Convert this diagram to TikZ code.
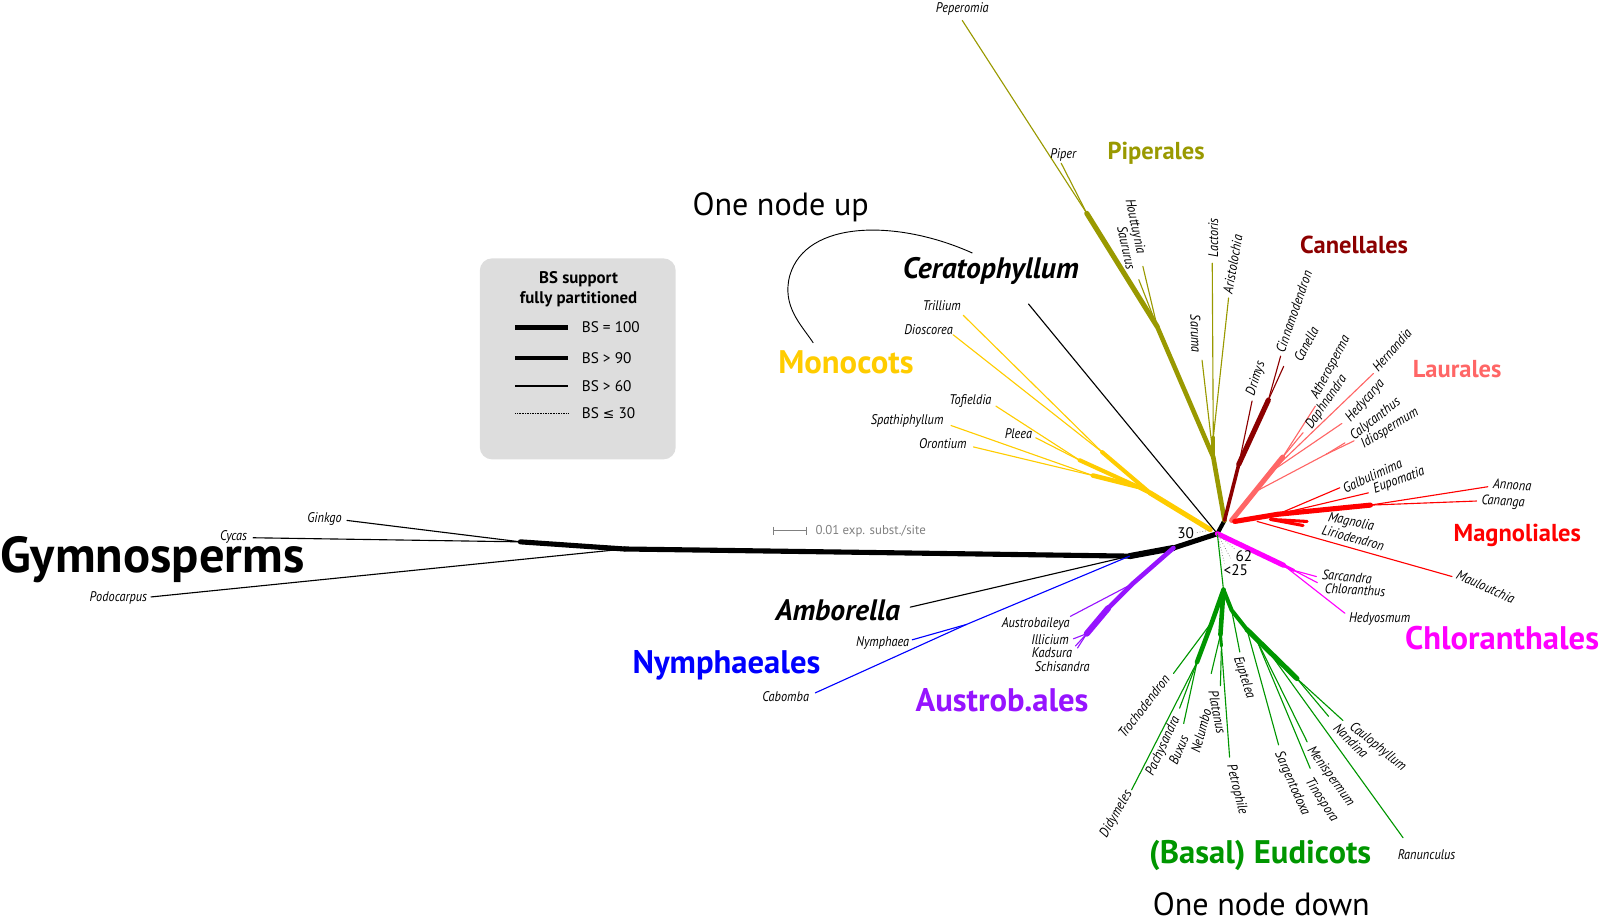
\documentclass[tikz,border=0pt]{standalone}
\usepackage{fontspec}
\usetikzlibrary{calc}
\setmainfont{PT Sans}
\newfontfamily\taxf[FakeStretch=0.88]{PT Sans}
\newfontfamily\symf{DejaVu Sans}
\definecolor{colPip}{RGB}{153,153,0}
\definecolor{colCan}{RGB}{140,0,0}
\definecolor{colLau}{RGB}{255,102,102}
\definecolor{colMag}{RGB}{255,0,0}
\definecolor{colChl}{RGB}{255,0,255}
\definecolor{colEud}{RGB}{0,150,0}
\definecolor{colMon}{RGB}{255,204,0}
\definecolor{colAus}{RGB}{150,20,255}
\definecolor{colNym}{RGB}{0,0,255}
\definecolor{colLeg}{RGB}{221,221,221}
\definecolor{colBar}{RGB}{128,128,128}
\begin{document}
\begin{tikzpicture}[x=1pt,y=-1pt,
  tax/.style={font=\taxf\itshape\fontsize{13.7}{13.7}\selectfont, inner sep=0pt, text=black},
  clade/.style={font=\bfseries\fontsize{32}{32}\selectfont, inner sep=0pt},
  cladesm/.style={font=\bfseries\fontsize{24}{24}\selectfont, inner sep=0pt},
  bigtxt/.style={font=\fontsize{31.5}{31.5}\selectfont, inner sep=0pt},
  bitxt/.style={font=\bfseries\itshape\fontsize{29}{29}\selectfont, inner sep=0pt},
  br/.style={line width=1.1pt, line cap=round},
  bw/.style={line width=#1, line cap=round, line join=round},
  dotl/.style={dotted, line width=0.7pt, colBar},
  legtxt/.style={font=\fontsize{15}{15}\selectfont, inner sep=0pt, anchor=west},
  legttl/.style={font=\bfseries\fontsize{16.5}{16.5}\selectfont, inner sep=0pt},
  numtxt/.style={font=\fontsize{15}{15}\selectfont, inner sep=0pt}
]
\useasboundingbox (0,0) rectangle (1568,905);

% ---------------- legend ----------------
\node[draw=none, fill=colLeg, rounded corners=12pt, minimum width=192pt, minimum height=197pt, anchor=north west, inner sep=0pt] (legbox) at (470,253) {};
\node[legttl] (legt1) at (567,274) {BS support};
\node[legttl] (legt2) at (567,293) {fully partitioned};
\coordinate (lgA1) at (505,321); \coordinate (lgA2) at (557,321);
\coordinate (lgB1) at (505,351); \coordinate (lgB2) at (557,351);
\coordinate (lgC1) at (505,378); \coordinate (lgC2) at (557,378);
\coordinate (lgD1) at (505,405); \coordinate (lgD2) at (557,405);
\draw[line width=5pt] (lgA1) -- (lgA2);
\draw[line width=4pt] (lgB1) -- (lgB2);
\draw[line width=2pt] (lgC1) -- (lgC2);
\draw[densely dotted, line width=0.6pt] (lgD1) -- (lgD2);
\node[legtxt] (legl1) at (570,321) {BS = 100};
\node[legtxt] (legl2) at (570,351) {BS > 90};
\node[legtxt] (legl3) at (570,378) {BS > 60};
\node[legtxt] (legl4) at (570,405) {BS {\symf\fontsize{13.5}{13.5}\selectfont ≤} 30};

% ---------------- scale bar ----------------
\coordinate (sb1) at (758,520); \coordinate (sb2) at (790,520);
\draw[colBar, line width=1pt] (sb1) -- (sb2);
\draw[colBar, line width=1pt] ($(sb1)+(0,-4)$) -- ($(sb1)+(0,4)$);
\draw[colBar, line width=1pt] ($(sb2)+(0,-4)$) -- ($(sb2)+(0,4)$);
\node[font=\fontsize{12.6}{12.6}\selectfont, text=colBar, inner sep=0pt, anchor=west] (sbl) at (799,521) {0.01 exp. subst./site};

% ---------------- backbone ----------------
\coordinate (G1) at (510,531);
\coordinate (R0) at (612,538);
\coordinate (A) at (1107,545);
\coordinate (C) at (1150,537);
\coordinate (M1) at (1193,523);
\coordinate (M2) at (1200,510);

% gymnosperms
\coordinate (tGinkgo) at (340,510);
\coordinate (tCycas) at (248,527);
\coordinate (tPodocarpus) at (148,585);
\draw[br] (tGinkgo) -- (G1);
\draw[br] (tCycas) -- (G1);
\draw[br] (tPodocarpus) -- (R0);
\draw[bw=5pt] (G1) -- (R0);
\draw[bw=5pt] (R0) -- (A);
\draw[bw=6pt] (A) -- (C);
\draw[bw=5pt] (C) -- (M1);
\draw[bw=4pt] (M1) -- (M2);
\node[tax] (lGinkgo) at (318,509) {Ginkgo};
\node[tax] (lCycas) at (229,526) {Cycas};
\node[tax] (lPodocarpus) at (116,586) {Podocarpus};
\node[font=\bfseries\fontsize{49.5}{49.5}\selectfont, inner sep=0pt, anchor=west] (gym) at (0,548) {Gymnosperms};

% Amborella & Nymphaeales
\coordinate (tAmborella) at (892,595);
\draw[br] (tAmborella) -- (A);
\node[bitxt] (lAmborella) at (821,598) {Amborella};
\coordinate (N1) at (947,612);
\coordinate (tNymphaea) at (894,627);
\coordinate (tCabomba) at (799,679);
\draw[br, colNym] (tCabomba) -- (N1) -- (A);
\draw[br, colNym] (tNymphaea) -- (N1);
\node[tax] (lNymphaea) at (865,630) {Nymphaea};
\node[tax] (lCabomba) at (770,683) {Cabomba};
\node[clade, text=colNym] (cNym) at (712,652) {Nymphaeales};

% Austrobaileyales
\coordinate (Au1) at (1110,572);
\coordinate (Au2) at (1086,596);
\coordinate (Au3) at (1065,621);
\coordinate (tAustrobaileya) at (1049,604);
\coordinate (tIllicium) at (1052,626);
\coordinate (tKadsura) at (1054,633);
\coordinate (tSchisandra) at (1056,635);
\draw[bw=4.5pt, colAus] (C) -- (Au1) -- (Au2);
\draw[bw=6pt, colAus] (Au2) -- (Au3);
\draw[br, colAus] (tAustrobaileya) -- (Au1);
\draw[br, colAus] (tIllicium) -- (Au3);
\draw[br, colAus] (tKadsura) -- (Au3);
\draw[br, colAus] (tSchisandra) -- (Au3);
\node[tax] (lAustrobaileya) at (1015,611) {Austrobaileya};
\node[tax] (lIllicium) at (1029,627) {Illicium};
\node[tax] (lKadsura) at (1031,640) {Kadsura};
\node[tax] (lSchisandra) at (1041,653) {Schisandra};
\node[clade, text=colAus] (cAus) at (982,686) {Austrob.ales};

% Monocots
\coordinate (Ys) at (1186,519);
\coordinate (Y0) at (1127,483);
\coordinate (Y1) at (1080,443);
\coordinate (Y2) at (1115,477);
\coordinate (Y3) at (1058,451);
\coordinate (Y4) at (1071,466);
\coordinate (tTrillium) at (944,309);
\coordinate (tDioscorea) at (934,328);
\coordinate (tTofieldia) at (976,398);
\coordinate (tPleea) at (1015,429);
\coordinate (tSpathiphyllum) at (932,417);
\coordinate (tOrontium) at (954,438);
\draw[br, colMon] (tTrillium) -- (Y1);
\draw[br, colMon] (tDioscorea) -- (Y1);
\draw[br, colMon] (tTofieldia) -- (Y3);
\draw[br, colMon] (tPleea) -- (Y3);
\draw[br, colMon] (tSpathiphyllum) -- (Y4);
\draw[br, colMon] (tOrontium) -- (Y4);
\draw[bw=5pt, colMon] (Ys) -- (Y0);
\draw[bw=4pt, colMon] (Y0) -- (Y1);
\draw[bw=4pt, colMon] (Y0) -- (Y2);
\draw[bw=4pt, colMon] (Y2) -- (Y3);
\draw[bw=4.5pt, colMon] (Y2) -- (Y4);
\node[tax] (lTrillium) at (923,300) {Trillium};
\node[tax] (lDioscorea) at (910,323) {Dioscorea};
\node[tax] (lTofieldia) at (951,393) {Tofieldia};
\node[tax] (lPleea) at (998,425) {Pleea};
\node[tax] (lSpathiphyllum) at (889,413) {Spathiphyllum};
\node[tax] (lOrontium) at (924,435) {Orontium};
\node[clade, text=colMon] (cMon) at (829,355) {Monocots};

% Ceratophyllum
\coordinate (tCeratophyllum) at (1008,298);
\draw[br] (tCeratophyllum) -- (M1);
\node[bitxt] (lCeratophyllum) at (971,266) {Ceratophyllum};
\node[bigtxt] (upl) at (765,203) {One node up};
\coordinate (arcS) at (953,248);
\coordinate (arcM) at (774,270);
\coordinate (arcE) at (797,336);
\draw[line width=0.9pt] (arcS) .. controls (880,215) and (790,215) .. (arcM) .. controls (766,300) and (785,318) .. (arcE);

% Piperales
\coordinate (P1) at (1065,209);
\coordinate (P2) at (1134,320);
\coordinate (P4) at (1189,429);
\coordinate (P3) at (1189,448);
\coordinate (tPeperomia) at (943,20);
\coordinate (tPiper) at (1040,160);
\coordinate (tHouttuynia) at (1120,261);
\coordinate (tSaururus) at (1116,274);
\coordinate (tLactoris) at (1188,258);
\coordinate (tAristolochia) at (1204,292);
\coordinate (tSaruma) at (1178,353);
\draw[br, colPip] (tPeperomia) -- (P1);
\draw[br, colPip] (tPiper) -- (P1);
\draw[br, colPip] (tHouttuynia) -- (P2);
\draw[br, colPip] (tSaururus) -- (P2);
\draw[br, colPip] (tLactoris) -- (P4);
\draw[br, colPip] (tAristolochia) -- (P4);
\draw[br, colPip] (tSaruma) -- (P3);
\draw[bw=5pt, colPip] (P1) -- (P2);
\draw[bw=4.5pt, colPip] (P2) -- (P3) -- (M2);
\draw[bw=4pt, colPip] (P4) -- (P3);
\node[tax] (lPeperomia) at (943,9) {Peperomia};
\node[tax] (lPiper) at (1042,152) {Piper};
\node[tax, rotate=-78] (lHouttuynia) at (1112,222) {Houttuynia};
\node[tax, rotate=-78] (lSaururus) at (1104,243) {Saururus};
\node[tax, rotate=90] (lLactoris) at (1189,233) {Lactoris};
\node[tax, rotate=80] (lAristolochia) at (1208,259) {Aristolochia};
\node[tax, rotate=-88] (lSaruma) at (1172,327) {Saruma};
\node[cladesm, text=colPip] (cPip) at (1133,150) {Piperales};

% Canellales
\coordinate (D1) at (1243,392);
\coordinate (D2) at (1214,455);
\coordinate (tCinnamodendron) at (1255,349);
\coordinate (tCanella) at (1258,359);
\coordinate (tDrimys) at (1227,393);
\draw[br, colCan] (tCinnamodendron) -- (D1);
\draw[br, colCan] (tCanella) -- (D1);
\draw[br, colCan] (tDrimys) -- (D2);
\draw[bw=5pt, colCan] (D1) -- (D2);
\draw[bw=3.5pt, colCan] (D2) -- (M2);
\node[tax, rotate=71] (lCinnamodendron) at (1268,305) {Cinnamodendron};
\node[tax, rotate=62] (lCanella) at (1280,337) {Canella};
\node[tax, rotate=72] (lDrimys) at (1231,371) {Drimys};
\node[cladesm, text=colCan] (cCan) at (1327,240) {Canellales};

% Laurales
\coordinate (Ls) at (1207,510);
\coordinate (L0) at (1257,448);
\coordinate (L2) at (1246,462);
\coordinate (L4) at (1230,482);
\coordinate (L3) at (1300,445);
\coordinate (tAtherosperma) at (1289,398);
\coordinate (tDaphnandra) at (1277,424);
\coordinate (tHernandia) at (1346,366);
\coordinate (tHedycarya) at (1315,415);
\coordinate (tCalycanthus) at (1318,434);
\coordinate (tIdiospermum) at (1327,432);
\draw[br, colLau] (tAtherosperma) -- (L0);
\draw[br, colLau] (tDaphnandra) -- (L0);
\draw[br, colLau] (tHernandia) -- (L2);
\draw[br, colLau] (tHedycarya) -- (L2);
\draw[br, colLau] (tCalycanthus) -- (L3);
\draw[br, colLau] (tIdiospermum) -- (L3);
\draw[br, colLau] (L3) -- (L4);
\draw[bw=5pt, colLau] (Ls) -- (L0);
\node[tax, rotate=49] (lHernandia) at (1364,343) {Hernandia};
\node[tax, rotate=62] (lAtherosperma) at (1304,360) {Atherosperma};
\node[tax, rotate=55] (lDaphnandra) at (1300,394) {Daphnandra};
\node[tax, rotate=48] (lHedycarya) at (1338,393) {Hedycarya};
\node[tax, rotate=38] (lCalycanthus) at (1348,411) {Calycanthus};
\node[tax, rotate=32] (lIdiospermum) at (1362,420) {Idiospermum};
\node[cladesm, text=colLau] (cLau) at (1428,362) {Laurales};

% Magnoliales
\coordinate (Mg0) at (1210,511);
\coordinate (Mg2) at (1252,504);
\coordinate (Mg1) at (1343,495);
\coordinate (Mg3) at (1245,509);
\coordinate (Mg4) at (1232,511);
\coordinate (tGalbulimima) at (1313,478);
\coordinate (tEupomatia) at (1341,483);
\coordinate (tAnnona) at (1458,477);
\coordinate (tCananga) at (1447,491);
\coordinate (tMagnolia) at (1281,511);
\coordinate (tLiriodendron) at (1277,515);
\coordinate (tMauloutchia) at (1423,565);
\draw[br, colMag] (tGalbulimima) -- (Mg2);
\draw[br, colMag] (tEupomatia) -- (Mg2);
\draw[br, colMag] (tAnnona) -- (Mg1);
\draw[br, colMag] (tCananga) -- (Mg1);
\draw[br, colMag] (tMauloutchia) -- (Mg4);
\draw[bw=3pt, colMag] (Mg3) -- (tMagnolia);
\draw[bw=3pt, colMag] (Mg3) -- (tLiriodendron);
\draw[bw=5pt, colMag] (Mg0) -- (Mg2) -- (Mg1);
\node[tax, rotate=25] (lGalbulimima) at (1345,466) {Galbulimima};
\node[tax, rotate=20] (lEupomatia) at (1371,471) {Eupomatia};
\node[tax, rotate=-4] (lAnnona) at (1482,475) {Annona};
\node[tax, rotate=-4] (lCananga) at (1473,492) {Cananga};
\node[tax, rotate=-12] (lMagnolia) at (1324,512) {Magnolia};
\node[tax, rotate=-15] (lLiriodendron) at (1326,527) {Liriodendron};
\node[tax, rotate=-24] (lMauloutchia) at (1456,575) {Mauloutchia};
\node[cladesm, text=colMag] (cMag) at (1487,525) {Magnoliales};

% Chloranthales
\coordinate (C1) at (1258,554);
\coordinate (C2) at (1268,559);
\coordinate (tSarcandra) at (1290,565);
\coordinate (tChloranthus) at (1291,571);
\coordinate (tHedyosmum) at (1318,601);
\draw[br, colChl] (tSarcandra) -- (C2);
\draw[br, colChl] (tChloranthus) -- (C2);
\draw[br, colChl] (tHedyosmum) -- (C1);
\draw[bw=5pt, colChl] (M1) -- (C1);
\draw[bw=3pt, colChl] (C1) -- (C2);
\node[tax, rotate=-5] (lSarcandra) at (1320,565) {Sarcandra};
\node[tax, rotate=-3] (lChloranthus) at (1328,578) {Chloranthus};
\node[tax] (lHedyosmum) at (1352,607) {Hedyosmum};
\node[clade, text=colChl] (cChl) at (1472,625) {Chloranthales};

% Eudicots
\coordinate (E0) at (1199,578);
\coordinate (T1) at (1188,609);
\coordinate (B1) at (1173,649);
\coordinate (Pr0) at (1196,622);
\coordinate (Pr1) at (1197,633);
\coordinate (Ra1) at (1207,598);
\coordinate (Ra2) at (1222,617);
\coordinate (Ra3) at (1231,626);
\coordinate (Ra5) at (1243,638);
\coordinate (Ra4) at (1271,665);
\coordinate (tTrochodendron) at (1150,660);
\coordinate (tDidymeles) at (1109,774);
\coordinate (tPachysandra) at (1156,694);
\coordinate (tBuxus) at (1160,709);
\coordinate (tNelumbo) at (1187,660);
\coordinate (tPlatanus) at (1196,672);
\coordinate (tPetrophile) at (1205,742);
\coordinate (tEuptelea) at (1215,639);
\coordinate (tSargentodoxa) at (1253,730);
\coordinate (tMenispermum) at (1281,727);
\coordinate (tTinospora) at (1284,753);
\coordinate (tRanunculus) at (1375,821);
\coordinate (tNandina) at (1302,702);
\coordinate (tCaulophyllum) at (1316,706);
\draw[br, colEud] (M1) -- (E0);
\draw[br, colEud] (tTrochodendron) -- (T1);
\draw[br, colEud] (tDidymeles) -- (B1);
\draw[br, colEud] (tPachysandra) -- (B1);
\draw[br, colEud] (tBuxus) -- (B1);
\draw[br, colEud] (tNelumbo) -- (Pr0);
\draw[br, colEud] (tPlatanus) -- (Pr1);
\draw[br, colEud] (tPetrophile) -- (Pr1);
\draw[br, colEud] (tEuptelea) -- (Ra1);
\draw[br, colEud] (tSargentodoxa) -- (Ra2);
\draw[br, colEud] (tMenispermum) -- (Ra3);
\draw[br, colEud] (tTinospora) -- (Ra3);
\draw[br, colEud] (tRanunculus) -- (Ra5);
\draw[br, colEud] (tNandina) -- (Ra4);
\draw[br, colEud] (tCaulophyllum) -- (Ra4);
\draw[bw=4.5pt, colEud] (E0) -- (T1) -- (B1);
\draw[bw=4.5pt, colEud] (E0) -- (Pr0);
\draw[bw=3pt, colEud] (Pr0) -- (Pr1);
\draw[bw=4pt, colEud] (E0) -- (Ra1) -- (Ra2);
\draw[bw=5pt, colEud] (Ra2) -- (Ra4);
\node[tax, rotate=52] (lTrochodendron) at (1121,692) {Trochodendron};
\node[tax, rotate=60] (lDidymeles) at (1094,798) {Didymeles};
\node[tax, rotate=65] (lPachysandra) at (1140,731) {Pachysandra};
\node[tax, rotate=67] (lBuxus) at (1155,735) {Buxus};
\node[tax, rotate=75] (lNelumbo) at (1177,716) {Nelumbo};
\node[tax, rotate=-79] (lPlatanus) at (1193,698) {Platanus};
\node[tax, rotate=-76] (lPetrophile) at (1212,774) {Petrophile};
\node[tax, rotate=-72] (lEuptelea) at (1219,664) {Euptelea};
\node[tax, rotate=-66] (lSargentodoxa) at (1266,768) {Sargentodoxa};
\node[tax, rotate=-54] (lMenispermum) at (1304,761) {Menispermum};
\node[tax, rotate=-57] (lTinospora) at (1295,784) {Tinospora};
\node[tax, rotate=-45] (lNandina) at (1324,726) {Nandina};
\node[tax, rotate=-39] (lCaulophyllum) at (1350,732) {Caulophyllum};
\node[tax] (lRanunculus) at (1398,838) {Ranunculus};
\node[clade, text=colEud] (cEud) at (1235,838) {(Basal) Eudicots};
\node[bigtxt] (downl) at (1236,886) {One node down};

% support values
\coordinate (d30a) at (1173,522); \coordinate (d30b) at (1188,519);
\coordinate (d62a) at (1210,538); \coordinate (d62b) at (1206,547); \coordinate (d25) at (1200,552);
\draw[dotl] (d30a) -- (d30b);
\draw[dotl] (M1) -- (d62a);
\draw[dotl] (M1) -- (d62b);
\draw[dotl] (M1) -- (d25);
\node[numtxt] (n30) at (1162,522) {30};
\node[numtxt] (n62) at (1219,545) {62};
\node[numtxt] (n25) at (1211,559) {<25};
\end{tikzpicture}
\end{document}
